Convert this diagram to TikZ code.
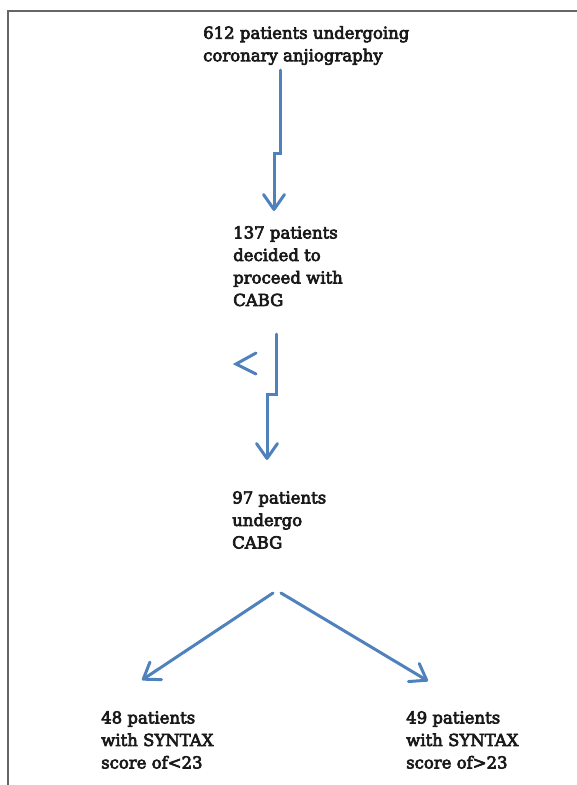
\documentclass[tikz,border=0pt]{standalone}
\usepackage{fontspec}
\setmainfont{DejaVu Serif}[BoldFont={DejaVu Serif}, BoldFeatures={FakeBold=4}]
\usetikzlibrary{positioning,arrows.meta}
\definecolor{flowblue}{RGB}{79,129,189}
\tikzstyle{txt} = [anchor=north west, inner sep=0pt, align=left, font=\fontsize{16.5}{22.5}\selectfont\bfseries, text=black!90]
\tikzstyle{flow} = [draw=flowblue, line width=3pt, line join=miter, line cap=round]
\tikzstyle{frame} = [draw=black!60, line width=1.5pt]

\begin{document}
\begin{tikzpicture}[x=1pt, y=-1pt, >={Straight Barb[length=15pt,width=21pt,round]}]
		\useasboundingbox (0,0) rectangle (577,785);
		\draw [frame] (577,11) -- (8,11) -- (8,785);

		\node (n612) [txt] at (203,26) {612 patients undergoing\\coronary anjiography};
		\node (n137) [txt] at (233,226) {137 patients\\decided to\\proceed with\\CABG};
		\node (n97) [txt] at (232,491) {97 patients\\undergo\\CABG};
		\node (n48) [txt] at (101,711) {48 patients\\with SYNTAX\\score of<23};
		\node (n49) [txt] at (406,711) {49 patients\\with SYNTAX\\score of>23};

		\coordinate (a1) at (280,70);
		\coordinate (b1) at (274,211);
		\coordinate (a2) at (276,334);
		\coordinate (b2) at (267,460);
		\coordinate (l) at (273,593);
		\coordinate (r) at (281,593);
		\coordinate (bl) at (142,680);
		\coordinate (br) at (428,681);

		\draw [flow, ->] (a1) |- ++(-6,83) -- (b1);
		\draw [flow, ->] (a2) |- ++(-9,60) -- (b2);
		\draw [flow] (256,353) -- (236,364) -- (256,374);
		\draw [flow, ->] (l) -- (bl);
		\draw [flow, ->] (r) -- (br);
	\end{tikzpicture}
\end{document}
